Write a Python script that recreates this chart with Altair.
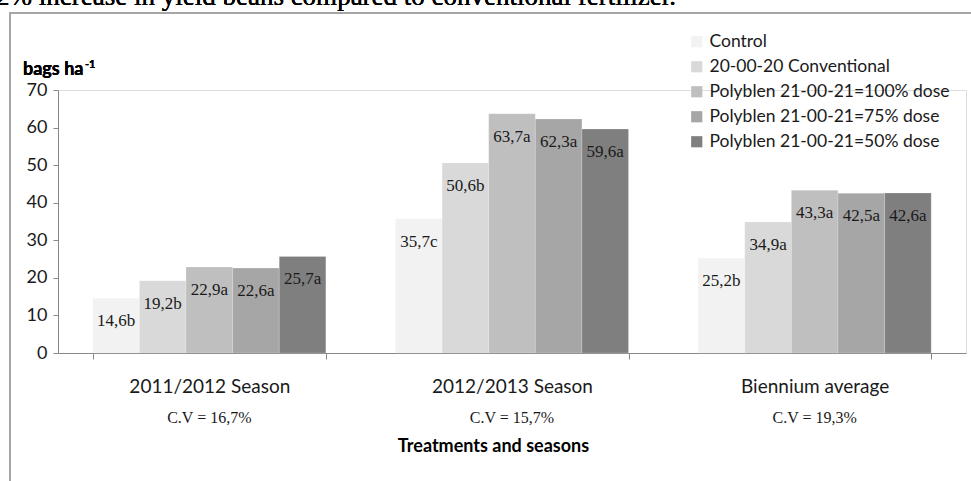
import altair as alt
import pandas as pd

seasons = ["2011/2012 Season", "2012/2013 Season", "Biennium average"]
treatments = [
    "Control",
    "20-00-20 Conventional",
    "Polyblen 21-00-21=100% dose",
    "Polyblen 21-00-21=75% dose",
    "Polyblen 21-00-21=50% dose",
]
colors = ["#f2f2f2", "#d9d9d9", "#bfbfbf", "#a6a6a6", "#7f7f7f"]

values_2011 = [14.6, 19.2, 22.9, 22.6, 25.7]
values_2012 = [35.7, 50.6, 63.7, 62.3, 59.6]
values_avg = [25.2, 34.9, 43.3, 42.5, 42.6]

letters_2011 = ["b", "b", "a", "a", "a"]
letters_2012 = ["c", "b", "a", "a", "a"]
letters_avg = ["b", "a", "a", "a", "a"]

cv_labels = ["C.V = 16,7%", "C.V = 15,7%", "C.V = 19,3%"]
y_ticks = [0, 10, 20, 30, 40, 50, 60, 70]

top_text = "2% increase in yield beans compared to conventional fertilizer."

rows = []
for s, vals, lets in zip(seasons, [values_2011, values_2012, values_avg],
                         [letters_2011, letters_2012, letters_avg]):
    for t, v, l in zip(treatments, vals, lets):
        rows.append({"season": s, "treatment": t, "value": v,
                     "label": f"{v:.1f}".replace(".", ",") + l})
df = pd.DataFrame(rows)
cv_df = pd.DataFrame({"season": seasons, "cv": cv_labels})

SANS = "Lato"
SERIF = "Liberation Serif"

x_enc = alt.X("season:N", sort=seasons,
              scale=alt.Scale(paddingInner=0.23, paddingOuter=0.115),
              axis=alt.Axis(title="Treatments and seasons", labelAngle=0,
                            tickBand="extent", tickSize=6, labelPadding=18,
                            labelFont=SANS, labelFontSize=19, labelColor="#1a1a1a",
                            titleFont=SANS, titleFontSize=18, titleFontWeight="bold",
                            titleColor="#000000", titleX=435, titleY=84,
                            domainColor="#888888", tickColor="#888888"))
xoff = alt.XOffset("treatment:N", sort=treatments,
                   scale=alt.Scale(paddingInner=0, paddingOuter=0))
y_enc = alt.Y("value:Q", scale=alt.Scale(domain=[0, 70], nice=False),
              axis=alt.Axis(title=None, values=y_ticks, tickCount=8, grid=False,
                            tickSize=5, labelOverlap=False, labelBound=False,
                            labelFont=SANS, labelFontSize=18, labelColor="#1a1a1a",
                            labelPadding=6,
                            domainColor="#888888", tickColor="#888888"))

base = alt.Chart(df)

bars = base.mark_bar(stroke="#ffffff", strokeOpacity=0.4, strokeWidth=0.5).encode(
    x=x_enc, xOffset=xoff, y=y_enc,
    color=alt.Color("treatment:N", sort=treatments,
                    scale=alt.Scale(domain=treatments, range=colors),
                    legend=alt.Legend(title=None, orient="none", legendX=630, legendY=-57,
                                      symbolType="square", symbolSize=125,
                                      symbolStrokeWidth=0,
                                      labelFont=SANS, labelFontSize=17.5,
                                      labelColor="#1a1a1a", labelLimit=400,
                                      rowPadding=6, labelOffset=4)),
)

labels = base.mark_text(font=SERIF, fontSize=17, color="#1a1a1a", dy=23,
                        baseline="middle").encode(
    x=x_enc, xOffset=xoff, y=y_enc, text="label:N")

cv = alt.Chart(cv_df).mark_text(font=SERIF, fontSize=16, color="#1a1a1a",
                                baseline="middle").encode(
    x=x_enc, y=alt.value(328), text="cv:N")

frame = alt.Chart(cv_df).mark_rect(fill=None, stroke="#a6a6a6", strokeWidth=2).encode(
    x=alt.value(-48), x2=alt.value(2000), y=alt.value(-77), y2=alt.value(2000))

top = alt.Chart(cv_df).mark_text(font=SERIF, fontSize=27, fontWeight="normal",
                                 color="#000000",
                                 align="left", baseline="alphabetic").encode(
    x=alt.value(-62), y=alt.value(-85), text=alt.value(top_text))

ytitle = alt.Chart(cv_df).mark_text(font=SANS, fontSize=18, fontWeight="bold",
                                    color="#000000", align="left",
                                    baseline="alphabetic").encode(
    x=alt.value(-35), y=alt.value(-15), text=alt.value("bags ha"))
ysup = alt.Chart(cv_df).mark_text(font=SANS, fontSize=11, fontWeight="bold",
                                  color="#000000", align="left",
                                  baseline="alphabetic").encode(
    x=alt.value(27), y=alt.value(-22), text=alt.value("-1"))

chart = alt.layer(frame, top, bars, labels, cv, ytitle, ysup).properties(
    width=908, height=263,
    autosize=alt.AutoSizeParams(type="none"),
    padding={"left": 58, "top": 90, "right": 5, "bottom": 128},
).configure_view(stroke=None).configure(background="white")

chart.save("out.html", embed_options={"renderer": "svg", "actions": False})
